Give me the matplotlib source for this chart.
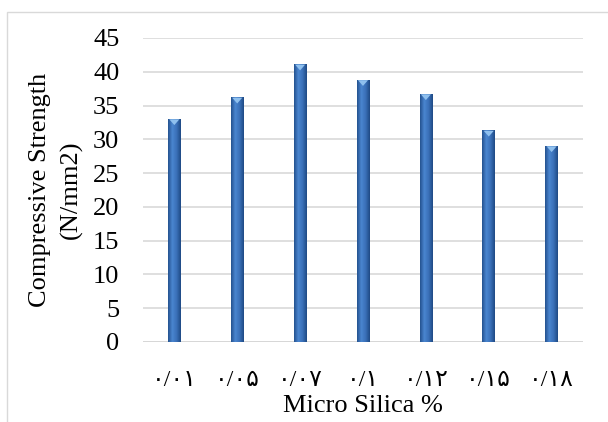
import numpy as np
import matplotlib
matplotlib.use("Agg")
from matplotlib import pyplot as plt
from matplotlib.patches import Rectangle, Polygon
from matplotlib.colors import LinearSegmentedColormap

## DATA
silicaLabels = ["۰/۰۱", "۰/۰۵", "۰/۰۷", "۰/۱", "۰/۱۲", "۰/۱۵", "۰/۱۸"]
strength = [33.0, 36.2, 41.1, 38.8, 36.7, 31.3, 29.0]
yTicks = [0, 5, 10, 15, 20, 25, 30, 35, 40, 45]

plt.rcParams['font.family'] = ['Liberation Serif', 'DejaVu Sans']

fig = plt.figure(figsize=(6.08, 4.22), dpi=100)
ax = fig.add_axes([0.235, 0.19, 0.724, 0.72])

# outer chart frame (only left and top edges visible)
fig.patches.append(Rectangle((7/608, -0.5), 2.0, 1.5 - 12/422, transform=fig.transFigure,
                             fill=False, edgecolor="#d9d9d9", linewidth=1.0))

x = np.arange(len(strength))
barWidth = 0.2
bars = ax.bar(x, strength, width=barWidth, color="#3b6fb6", edgecolor="none", zorder=2)

# cylinder look: horizontal shading on each bar plus a light cap
shade = LinearSegmentedColormap.from_list("shade", ["#24528f", "#4a86d0", "#3a70b8", "#1f4a85"])
grad = np.linspace(0, 1, 64).reshape(1, -1)
for b in bars:
    x0, w, h = b.get_x(), b.get_width(), b.get_height()
    im = ax.imshow(grad, cmap=shade, aspect="auto", extent=(x0, x0 + w, 0, h), zorder=3)
    im.set_clip_path(b)
    ax.add_patch(Polygon([(x0 + 0.02, h - 0.05), (x0 + w - 0.02, h - 0.05), (x0 + w / 2, h - 0.9)],
                         closed=True, color="#8fc0ee", zorder=4, linewidth=0))

ax.set_xlim(-0.5, len(strength) - 0.5)
ax.set_ylim(0, 45)
ax.set_yticks(yTicks)
ax.set_xticks(x)
ax.set_xticklabels(silicaLabels)
ax.tick_params(axis="both", length=0, labelsize=19)
ax.tick_params(axis="x", pad=20, labelsize=17)
ax.tick_params(axis="y", pad=17)

for y in yTicks[1:]:
    ax.axhline(y, color="#d9d9d9", linewidth=1.2, zorder=1)
ax.axhline(0, color="#d0d0d0", linewidth=1.2, zorder=1)
for s in ax.spines.values():
    s.set_visible(False)

ax.set_ylabel("Compressive Strength\n(N/mm2)", fontsize=19, linespacing=1.45, labelpad=7.5)
ax.set_xlabel("Micro Silica %", fontsize=19, labelpad=3)

fig.savefig("out.png", dpi=100)
